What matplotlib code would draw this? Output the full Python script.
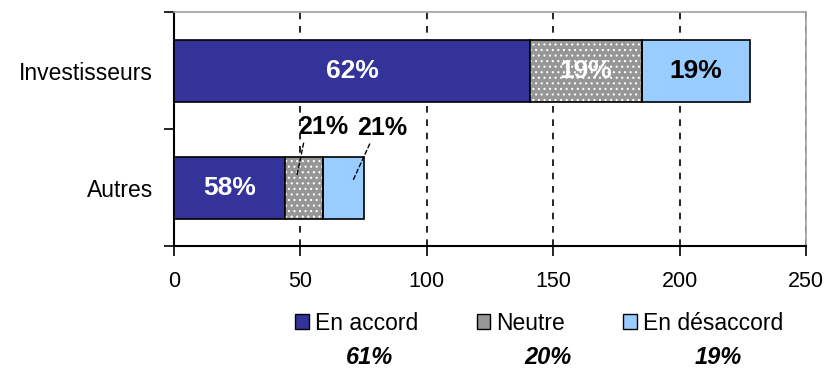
import matplotlib.pyplot as plt
from matplotlib.patches import Patch

plt.rcParams['font.family'] = ['Liberation Sans', 'DejaVu Sans']
plt.rcParams['hatch.linewidth'] = 0.8

categories = ["Autres", "Investisseurs"]
accord = [44, 141]
neutre = [15, 44]
desaccord = [16, 43]
pct_accord = ["58%", "62%"]
pct_neutre = ["21%", "19%"]
pct_desaccord = ["21%", "19%"]
series_names = ["En accord", "Neutre", "En désaccord"]
totals = ["61%", "20%", "19%"]
xticks = [0, 50, 100, 150, 200, 250]

c_accord = "#333399"
c_neutre = "#969696"
c_desac = "#99ccff"

fig = plt.figure(figsize=(8.27, 3.70), dpi=100)
ax = fig.add_axes([0.2104, 0.335, 0.7642, 0.6325])

y = [0, 1]
h = 0.53
left2 = [a + n for a, n in zip(accord, neutre)]

ax.barh(y, accord, height=h, color=c_accord, edgecolor="black", linewidth=1.2, zorder=3)
# gris avec points blancs
ax.barh(y, neutre, left=accord, height=h, color=c_neutre, edgecolor="white",
        hatch="...", linewidth=0, zorder=3)
ax.barh(y, neutre, left=accord, height=h, fill=False, edgecolor="black", linewidth=1.2, zorder=4)
ax.barh(y, desaccord, left=left2, height=h, color=c_desac, edgecolor="black", linewidth=1.2, zorder=3)

lab = dict(fontsize=19, fontweight="bold", ha="center", va="center", zorder=5)

# étiquettes Investisseurs (dans les barres)
i = 1
ax.text(accord[i] / 2, i, pct_accord[i], color="white", **lab)
ax.text(accord[i] + neutre[i] / 2, i, pct_neutre[i], color="white", **lab)
ax.text(left2[i] + desaccord[i] / 2, i, pct_desaccord[i], color="black", **lab)

# étiquettes Autres, avec traits de rappel
i = 0
ax.text(accord[i] / 2, i, pct_accord[i], color="white", **lab)
ax.annotate(pct_neutre[i], xy=(accord[i] + neutre[i] / 2 - 3, i + 0.09),
            xytext=(19, 36), textcoords="offset points", fontsize=18, fontweight="bold",
            ha="center", va="center", zorder=5,
            arrowprops=dict(arrowstyle="-", color="black", linestyle=(0, (3, 2)), lw=1,
                            shrinkA=1, shrinkB=0, relpos=(0.14, 0.1)))
ax.annotate(pct_desaccord[i], xy=(left2[i] + desaccord[i] / 2 + 4, i + 0.07),
            xytext=(21, 37), textcoords="offset points", fontsize=18, fontweight="bold",
            ha="center", va="center", zorder=5,
            arrowprops=dict(arrowstyle="-", color="black", linestyle=(0, (3, 2)), lw=1,
                            shrinkA=1, shrinkB=0, relpos=(0.3, 0.1)))

ax.set_xlim(0, 250)
ax.set_ylim(-0.5, 1.5)
ax.set_xticks(xticks)
ax.set_xticklabels([str(v) for v in xticks], fontsize=15.5)
ax.set_yticks([-0.5, 0.5, 1.5])
ax.set_yticklabels([])
ax.set_yticks(y, minor=True)
ax.set_yticklabels(categories, minor=True, fontsize=16.5)
ax.tick_params(axis="y", which="minor", length=0, pad=15)
ax.tick_params(axis="y", which="major", length=7, width=1.2, direction="out")
ax.tick_params(axis="x", length=7, width=1.2, direction="out", pad=11)

ax.xaxis.grid(True, color="black", linestyle=(0, (4, 4)), linewidth=1.2, zorder=1)
ax.set_axisbelow(True)
for s in ["top", "right"]:
    ax.spines[s].set_color("#a0a0a0")
    ax.spines[s].set_linewidth(1.2)
for s in ["left", "bottom"]:
    ax.spines[s].set_color("black")
    ax.spines[s].set_linewidth(1.5)

handles = [
    Patch(facecolor=c_accord, edgecolor="black", linewidth=1),
    Patch(facecolor=c_neutre, edgecolor="black", linewidth=1),
    Patch(facecolor=c_desac, edgecolor="black", linewidth=1),
]
fig.legend(handles, series_names, loc="center", bbox_to_anchor=(0.652, 0.127),
           ncol=3, frameon=False, fontsize=16.5, handlelength=0.6, handleheight=0.6,
           handletextpad=0.25, columnspacing=2.55)

for xpos, t in zip([0.447, 0.663, 0.868], totals):
    fig.text(xpos, 0.035, t, fontsize=17, fontweight="bold", fontstyle="italic",
             ha="center", va="center")

fig.savefig("out.png", dpi=100)
